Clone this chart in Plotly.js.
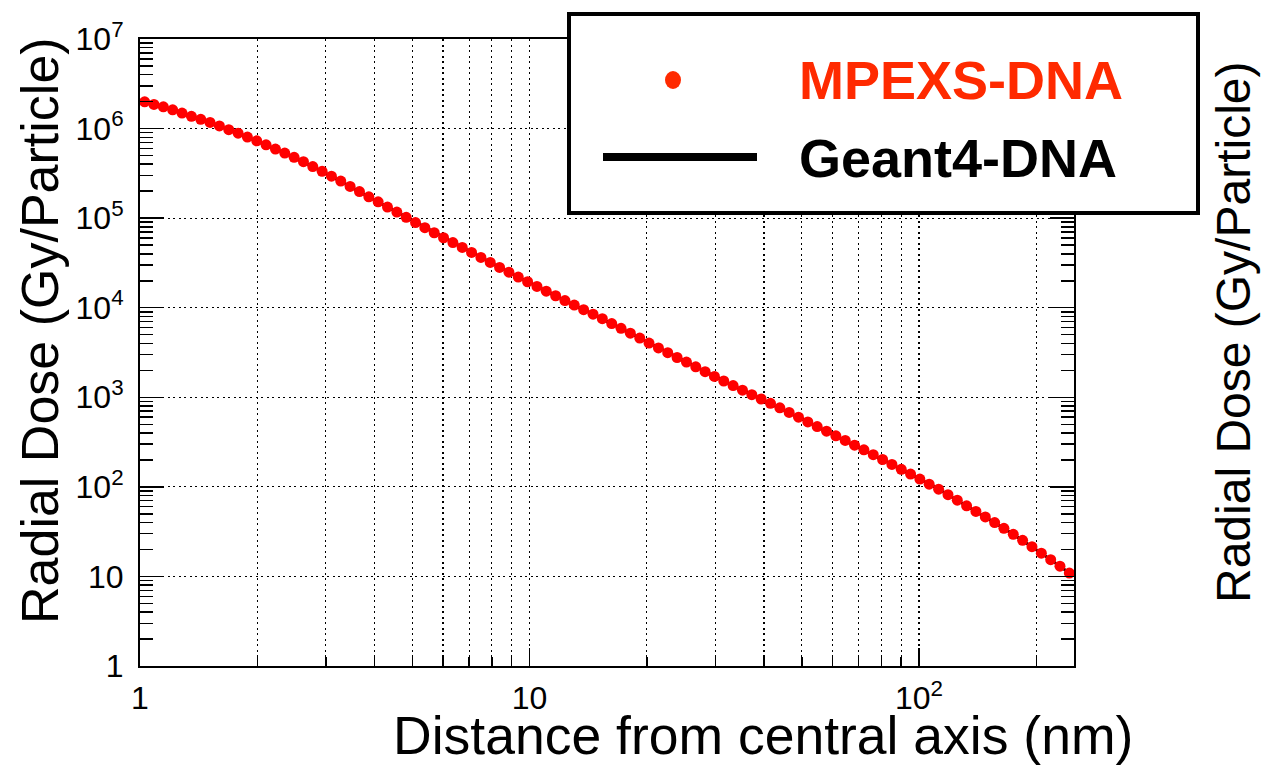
<!DOCTYPE html>
<html>
<head>
<meta charset="utf-8">
<script src="https://cdn.plot.ly/plotly-3.0.1.min.js"></script>
<style>html,body{margin:0;padding:0;background:#fff;}#chart{width:1266px;height:766px;}</style>
</head>
<body>
<div id="chart"></div>
<script>
// Distance from central axis (nm) — bin centres
var distance = [1.028,1.086,1.148,1.213,1.282,1.355,1.432,1.513,1.599,1.690,
1.786,1.887,1.994,2.107,2.227,2.353,2.487,2.628,2.777,2.935,
3.101,3.277,3.463,3.660,3.868,4.087,4.319,4.565,4.824,5.098,
5.387,5.693,6.016,6.358,6.719,7.100,7.503,7.929,8.379,8.855,
9.358,9.889,10.45,11.04,11.67,12.33,13.03,13.77,14.56,15.38,
16.26,17.18,18.15,19.19,20.27,21.43,22.64,23.93,25.29,26.72,
28.24,29.84,31.53,33.32,35.22,37.22,39.33,41.56,43.92,46.41,
49.05,51.83,54.78,57.89,61.17,64.65,68.32,72.20,76.30,80.63,
85.21,90.04,95.14,100.5,106.2,112.3,118.7,125.4,132.5,140.0,
148.0,156.4,165.2,174.6,184.5,195.0,206.1,217.8,230.1,243.2];

// Radial dose (Gy/Particle)
var doseMPEXS = [1.99e6,1.86e6,1.75e6,1.62e6,1.49e6,1.37e6,1.27e6,1.17e6,1.07e6,9.72e5,
8.88e5,8.04e5,7.29e5,6.58e5,5.90e5,5.33e5,4.77e5,4.27e5,3.76e5,3.33e5,
2.94e5,2.59e5,2.26e5,1.98e5,1.73e5,1.52e5,1.33e5,1.17e5,1.02e5,8.93e4,
7.83e4,6.87e4,6.04e4,5.33e4,4.71e4,4.14e4,3.64e4,3.20e4,2.82e4,2.49e4,
2.20e4,1.95e4,1.73e4,1.53e4,1.36e4,1.20e4,1.07e4,9.50e3,8.46e3,7.54e3,
6.66e3,5.89e3,5.19e3,4.58e3,4.03e3,3.56e3,3.15e3,2.78e3,2.47e3,2.19e3,
1.93e3,1.71e3,1.52e3,1.35e3,1.20e3,1.07e3,957,857,763,678,
600,531,471,418,371,330,292,259,229,202,
178,157,139,122,107,94.3,81.8,71.0,61.5,53.2,
46.1,39.9,34.4,29.5,25.3,21.5,18.2,15.4,13.0,10.9];

var doseGeant4 = doseMPEXS.slice();

var seriesNames = ["MPEXS-DNA", "Geant4-DNA"];
var xTickVals = [1, 10, 100];
var xTickText = ["1", "10", "10<sup>2</sup>"];
var yTickVals = [1, 10, 100, 1e3, 1e4, 1e5, 1e6, 1e7];
var yTickText = ["1", "10", "10<sup>2</sup>", "10<sup>3</sup>", "10<sup>4</sup>", "10<sup>5</sup>", "10<sup>6</sup>", "10<sup>7</sup>"];
var xTitle = "Distance from central axis (nm)";
var yTitle = "Radial Dose (Gy/Particle)";

var xMinor = [], yMinor = [];
[1, 10, 100].forEach(function (d) { for (var k = 2; k <= 9; k++) { if (d * k <= 250) xMinor.push(d * k); } });
[1, 10, 100, 1e3, 1e4, 1e5, 1e6].forEach(function (d) { for (var k = 2; k <= 9; k++) yMinor.push(d * k); });

var FONT = "'Liberation Sans', Arial, Helvetica, sans-serif";
var L = 140, R = 1074, T = 39, B = 666;
function px(x) { return (x - L) / (R - L); }
function py(y) { return (B - y) / (B - T); }

var traces = [
  { x: distance, y: doseGeant4, name: seriesNames[1], type: "scatter", mode: "lines",
    line: { color: "#000000", width: 3 }, showlegend: false, hoverinfo: "skip" },
  { x: distance, y: doseMPEXS, name: seriesNames[0], type: "scatter", mode: "markers",
    marker: { color: "#ff0000", size: 11, line: { width: 0 } }, showlegend: false }
];

var gridDash = "2px,3.5px";
var TICKSIZE = 32;
var layout = {
  width: 1266, height: 766,
  margin: { l: L, r: 1266 - R, t: T, b: 766 - B },
  paper_bgcolor: "#ffffff", plot_bgcolor: "#ffffff",
  showlegend: false,
  font: { family: FONT, color: "#000000", size: TICKSIZE },
  xaxis: {
    type: "log", range: [0, Math.log10(250)],
    tickmode: "array", tickvals: xTickVals, ticktext: xTickText,
    ticks: "inside", ticklen: 18, tickwidth: 1.5, tickcolor: "#000",
    showline: true, linecolor: "#000", linewidth: 2, mirror: true,
    showgrid: true, gridcolor: "#000", gridwidth: 1.2, griddash: gridDash,
    zeroline: false, ticklabelstandoff: 3,
    tickfont: { family: FONT, size: TICKSIZE, color: "#000" },
    minor: { tickmode: "array", tickvals: xMinor, ticks: "inside", ticklen: 9, tickwidth: 1.5, tickcolor: "#000",
             showgrid: true, gridcolor: "#000", gridwidth: 1.2, griddash: gridDash }
  },
  yaxis: {
    type: "log", range: [0, 7],
    tickmode: "array", tickvals: yTickVals, ticktext: yTickText,
    ticks: "inside", ticklen: 24, tickwidth: 1.5, tickcolor: "#000",
    showline: true, linecolor: "#000", linewidth: 2, mirror: "allticks",
    showgrid: true, gridcolor: "#000", gridwidth: 1.2, griddash: gridDash,
    zeroline: false, ticklabelstandoff: 8,
    tickfont: { family: FONT, size: TICKSIZE, color: "#000" },
    minor: { tickmode: "array", tickvals: yMinor, ticks: "inside", ticklen: 13, tickwidth: 1.5, tickcolor: "#000",
             showgrid: false }
  },
  shapes: [
    { type: "rect", xref: "paper", yref: "paper", x0: px(569), x1: px(1198), y0: py(213), y1: py(14),
      line: { color: "#000", width: 4 }, fillcolor: "#ffffff", layer: "above" },
    { type: "circle", xref: "paper", yref: "paper", x0: px(665), x1: px(681), y0: py(89), y1: py(71),
      line: { width: 0 }, fillcolor: "#ff2a00", layer: "above" },
    { type: "line", xref: "paper", yref: "paper", x0: px(603), x1: px(757), y0: py(157), y1: py(157),
      line: { color: "#000", width: 8 }, layer: "above" }
  ],
  annotations: [
    { xref: "paper", yref: "paper", x: px(797), y: py(80), xanchor: "left", yanchor: "middle", showarrow: false,
      text: "<b>" + seriesNames[0] + "</b>", font: { family: FONT, size: 54, color: "#ff2a00" } },
    { xref: "paper", yref: "paper", x: px(797), y: py(158), xanchor: "left", yanchor: "middle", showarrow: false,
      text: "<b>" + seriesNames[1] + "</b>", font: { family: FONT, size: 54, color: "#000" } },
    { xref: "paper", yref: "paper", x: px(1135), y: py(735), xanchor: "right", yanchor: "middle", showarrow: false,
      text: xTitle, font: { family: FONT, size: 53.5, color: "#000" } },
    { xref: "paper", yref: "paper", x: px(40), y: py(331), xanchor: "center", yanchor: "middle", showarrow: false,
      textangle: -90, text: yTitle, font: { family: FONT, size: 52, color: "#000" } },
    { xref: "paper", yref: "paper", x: px(1233), y: py(332), xanchor: "center", yanchor: "middle", showarrow: false,
      textangle: -90, text: yTitle, font: { family: FONT, size: 48, color: "#000" } }
  ]
};

Plotly.newPlot("chart", traces, layout, { staticPlot: true, displayModeBar: false });
</script>
</body>
</html>
